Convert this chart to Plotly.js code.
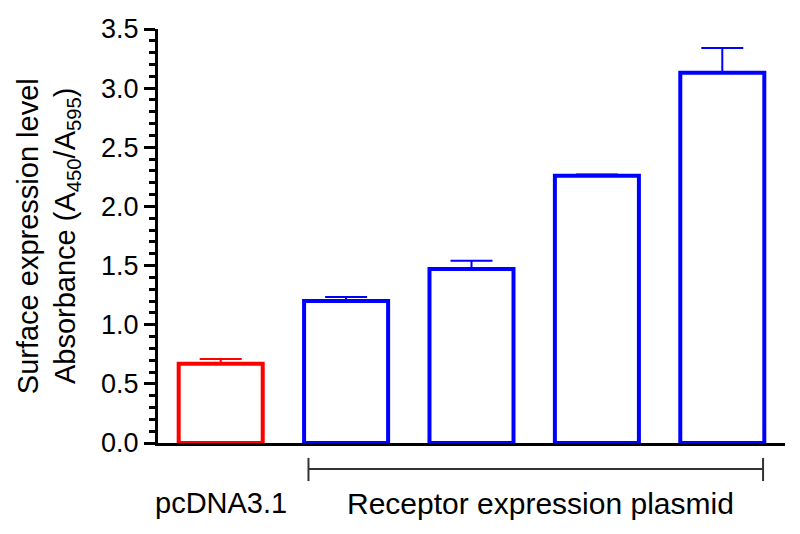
<!DOCTYPE html>
<html>
<head>
<meta charset="utf-8">
<script src="https://cdn.plot.ly/plotly-3.0.1.min.js"></script>
<style>
  html, body { margin: 0; padding: 0; background: #fff; }
  #graph { width: 800px; height: 534px; }
</style>
</head>
<body>
<div id="graph"></div>
<script>
// one bar per transfection
const samples = ['pcDNA3.1', 'Receptor 1', 'Receptor 2', 'Receptor 3', 'Receptor 4'];
const groupOf = ['control', 'receptor', 'receptor', 'receptor', 'receptor'];
const absorbance = [0.67, 1.20, 1.47, 2.26, 3.13];
const sem = [0.04, 0.035, 0.07, 0.01, 0.21];

const yTicks = [0, 0.5, 1, 1.5, 2, 2.5, 3, 3.5];

const colors = {control: '#ff0000', receptor: '#0000ff'};
const font = 'Liberation Sans, Arial, sans-serif';

function traceFor(group) {
    const idx = samples.map((s, i) => i).filter(i => groupOf[i] === group);
    return {
        type: 'bar',
        x: idx.map(i => samples[i]),
        y: idx.map(i => absorbance[i]),
        marker: {color: '#ffffff', line: {color: colors[group], width: 4}},
        error_y: {
            type: 'data',
            symmetric: false,
            array: idx.map(i => sem[i]),
            arrayminus: idx.map(() => 0),
            color: colors[group],
            thickness: 2,
            width: 21
        },
        hoverinfo: 'x+y',
        showlegend: false
    };
}

const data = [traceFor('control'), traceFor('receptor')];

const layout = {
    width: 800,
    height: 534,
    margin: {l: 158, r: 15, t: 29, b: 91},
    paper_bgcolor: '#fff',
    plot_bgcolor: '#fff',
    barmode: 'overlay',
    bargap: 0.33,
    font: {family: font, size: 27, color: '#000'},
    xaxis: {
        type: 'category',
        categoryarray: samples,
        range: [-0.5, 4.5],
        showticklabels: false,
        ticks: '',
        showgrid: false,
        zeroline: false,
        showline: true,
        linecolor: '#000',
        linewidth: 3,
        fixedrange: true
    },
    yaxis: {
        range: [0, 3.5],
        tickvals: yTicks,
        tickformat: '.1f',
        ticks: 'outside',
        ticklen: 11,
        tickwidth: 3,
        tickcolor: '#000',
        minor: {dtick: 0.1, ticks: 'outside', ticklen: 6, tickwidth: 3, tickcolor: '#000', showgrid: false},
        showgrid: false,
        zeroline: false,
        showline: true,
        linecolor: '#000',
        linewidth: 3,
        tickfont: {family: font, size: 27, color: '#000'},
        fixedrange: true
    },
    shapes: [
        {type: 'line', xref: 'x', yref: 'paper', x0: 0.70, x1: 4.325, y0: -0.063, y1: -0.063,
         line: {color: '#333', width: 2}},
        {type: 'line', xref: 'x', yref: 'paper', x0: 0.70, x1: 0.70, y0: -0.036, y1: -0.092,
         line: {color: '#333', width: 2}},
        {type: 'line', xref: 'x', yref: 'paper', x0: 4.325, x1: 4.325, y0: -0.036, y1: -0.092,
         line: {color: '#333', width: 2}}
    ],
    annotations: [
        {text: 'pcDNA3.1', xref: 'x', yref: 'paper', x: 0, y: -0.145,
         xanchor: 'center', yanchor: 'middle', showarrow: false,
         font: {family: font, size: 29, color: '#000'}},
        {text: 'Receptor expression plasmid', xref: 'x', yref: 'paper', x: 2.55, y: -0.145,
         xanchor: 'center', yanchor: 'middle', showarrow: false,
         font: {family: font, size: 30, color: '#000'}},
        {text: 'Surface expression level', xref: 'paper', yref: 'paper', x: -0.207, y: 0.5,
         xanchor: 'center', yanchor: 'middle', textangle: -90, showarrow: false,
         font: {family: font, size: 29, color: '#000'}},
        {text: 'Absorbance (A<sub>450</sub>/A<sub>595</sub>)', xref: 'paper', yref: 'paper', x: -0.145, y: 0.5,
         xanchor: 'center', yanchor: 'middle', textangle: -90, showarrow: false,
         font: {family: font, size: 29, color: '#000'}}
    ]
};

Plotly.newPlot('graph', data, layout, {displayModeBar: false, staticPlot: true});
</script>
</body>
</html>
